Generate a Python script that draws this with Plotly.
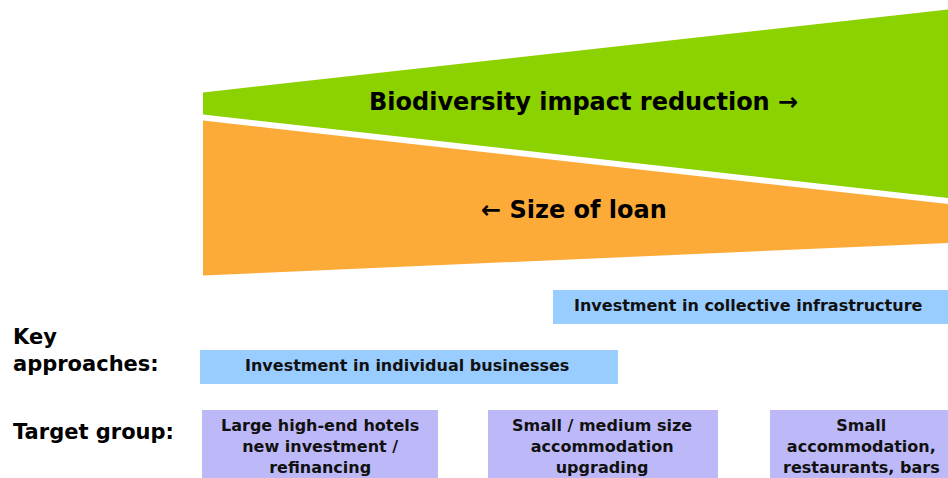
import plotly.graph_objects as go

# ---- diagram data (pixel-space units of the 948 x 478 canvas) ----
# wedges: left/right x, and top/bottom edges at each end
wedge_x = [203, 948]
green_top = [92.5, 9.5]
green_bottom = [114.5, 198]
orange_top = [120.5, 204]
orange_bottom = [275.5, 243]
wedge_labels = ["Biodiversity impact reduction \u2192", "\u2190 Size of loan"]
wedge_label_pos = [(583, 102), (574, 210)]

# key approaches boxes
approach_labels = ["Investment in collective infrastructure", "Investment in individual businesses"]
approach_x0 = [553, 200]
approach_x1 = [948, 618]
approach_y0 = [290, 350]
approach_y1 = [324, 384]

# target group boxes
target_labels = [
    "Large high-end hotels<br>new investment /<br>refinancing",
    "Small / medium size<br>accommodation<br>upgrading",
    "Small<br>accommodation,<br>restaurants, bars",
]
target_x0 = [202, 488, 770]
target_x1 = [438, 718, 948]
target_y0 = [410, 410, 410]
target_y1 = [478, 478, 478]
target_text_x = [320, 602, 861]

row_labels = ["Key<br>approaches:", "Target group:"]
row_label_y = [350, 432]

GREEN = "#8cd100"
ORANGE = "#fdab38"
BLUE = "#99ccff"
PURPLE = "#bdb9f8"
FONT = "DejaVu Sans"

fig = go.Figure()

fig.add_trace(go.Scatter(
    x=[wedge_x[0], wedge_x[1], wedge_x[1], wedge_x[0]],
    y=[green_top[0], green_top[1], green_bottom[1], green_bottom[0]],
    fill="toself", fillcolor=GREEN, mode="lines", line=dict(width=0, color=GREEN),
    hoverinfo="skip", showlegend=False))
fig.add_trace(go.Scatter(
    x=[wedge_x[0], wedge_x[1], wedge_x[1], wedge_x[0]],
    y=[orange_top[0], orange_top[1], orange_bottom[1], orange_bottom[0]],
    fill="toself", fillcolor=ORANGE, mode="lines", line=dict(width=0, color=ORANGE),
    hoverinfo="skip", showlegend=False))

for (tx, ty), lab in zip(wedge_label_pos, wedge_labels):
    fig.add_annotation(x=tx, y=ty, text=lab, showarrow=False, xanchor="center", yanchor="middle",
                       font=dict(family=FONT, size=24, color="#000000", weight="bold"))

for x0, x1, y0, y1, lab in zip(approach_x0, approach_x1, approach_y0, approach_y1, approach_labels):
    fig.add_shape(type="rect", xref="x", yref="y", x0=x0, x1=x1, y0=y0, y1=y1,
                  fillcolor=BLUE, line=dict(width=0), layer="below")
    fig.add_annotation(x=(x0 + x1) / 2 - 2, y=(y0 + y1) / 2 - 2, text=lab, showarrow=False,
                       xanchor="center", yanchor="middle",
                       font=dict(family=FONT, size=16, color="#111111", weight="bold"))

for x0, x1, y0, y1, tx, lab in zip(target_x0, target_x1, target_y0, target_y1, target_text_x, target_labels):
    fig.add_shape(type="rect", xref="x", yref="y", x0=x0, x1=x1, y0=y0, y1=y1,
                  fillcolor=PURPLE, line=dict(width=0), layer="below")
    fig.add_annotation(x=tx, y=446, text=lab, showarrow=False, xanchor="center", yanchor="middle",
                       font=dict(family=FONT, size=16, color="#111111", weight="bold"))

for ly, lab in zip(row_label_y, row_labels):
    fig.add_annotation(x=11, y=ly, text=lab, showarrow=False, xanchor="left", yanchor="middle",
                       align="left", font=dict(family=FONT, size=21, color="#000000", weight="bold"))

fig.update_layout(
    width=948, height=478,
    margin=dict(l=0, r=0, t=0, b=0),
    paper_bgcolor="white", plot_bgcolor="white",
    xaxis=dict(range=[0, 948], visible=False, fixedrange=True),
    yaxis=dict(range=[478, 0], visible=False, fixedrange=True),
    showlegend=False,
)

fig.write_html("out.html", config={"displayModeBar": False},
               post_script="document.body.style.margin='0';document.body.style.overflow='hidden';")
